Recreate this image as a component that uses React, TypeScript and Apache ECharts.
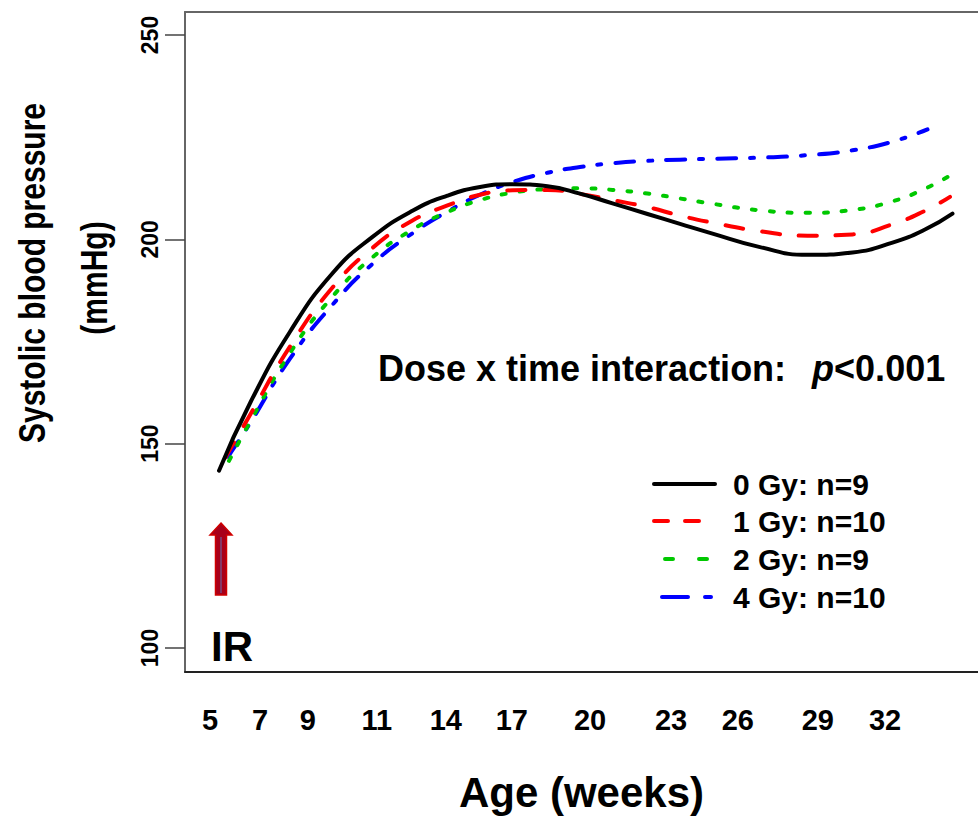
import React, { useEffect, useRef } from "react";
import * as echarts from "echarts";

// x axis: positions on a linear scale; labels are the ages in weeks shown at those positions
const xTickPos = [5.0, 7.0, 8.91, 11.67, 14.43, 17.07, 20.2, 23.44, 26.11, 29.31, 32.0];
const xTickLabels = ["5", "7", "9", "11", "14", "17", "20", "23", "26", "29", "32"];
const yTicks = [100, 150, 200, 250];

const seriesNames = ["0 Gy: n=9", "1 Gy: n=10", "2 Gy: n=9", "4 Gy: n=10"];

const x0Gy = [5.36, 6.6, 8.2, 9.9, 11.5, 13.1, 14.5, 15.8, 17.1, 18.5, 19.8, 21.1, 22.5, 23.8, 25.0, 27.0, 28.9, 30.7, 32.3, 33.6, 34.7];
const y0Gy = [143.4, 159.9, 177.4, 191.7, 200.6, 207.0, 210.7, 212.8, 213.5, 213.0, 211.2, 208.8, 206.2, 203.8, 201.6, 198.1, 196.2, 196.8, 199.2, 202.4, 206.3];

const x1Gy = [5.6, 6.6, 8.2, 9.9, 11.5, 13.1, 14.5, 15.8, 17.1, 18.5, 19.8, 21.1, 22.5, 23.8, 25.0, 27.0, 28.9, 30.7, 32.3, 33.6, 34.6];
const y1Gy = [146.5, 157.0, 173.8, 188.2, 197.9, 204.6, 208.3, 210.9, 212.0, 212.1, 211.1, 209.6, 207.9, 205.8, 204.2, 202.0, 200.9, 201.2, 203.7, 207.0, 210.4];

const x2Gy = [5.76, 6.6, 8.2, 9.9, 11.5, 13.1, 14.5, 15.8, 17.1, 18.5, 19.8, 21.1, 22.5, 23.8, 25.0, 27.0, 28.9, 30.7, 32.3, 33.6, 34.6];
const y2Gy = [145.8, 155.3, 172.2, 186.0, 195.6, 202.4, 206.7, 209.6, 211.4, 212.3, 212.5, 212.1, 211.2, 210.0, 208.8, 207.1, 206.5, 207.2, 209.3, 212.4, 215.6];

const x4Gy = [5.72, 6.6, 8.2, 9.9, 11.5, 13.1, 14.5, 15.8, 17.1, 18.5, 19.8, 21.1, 22.5, 23.8, 25.0, 27.0, 28.9, 30.7, 32.3, 33.7];
const y4Gy = [146.8, 155.0, 170.8, 184.0, 194.0, 201.5, 206.8, 210.9, 214.0, 216.3, 217.7, 218.6, 219.2, 219.5, 219.7, 220.0, 220.6, 221.8, 223.9, 226.9];

const xs = [x0Gy, x1Gy, x2Gy, x4Gy];
const ys = [y0Gy, y1Gy, y2Gy, y4Gy];

const colors = ["#000000", "#ff0000", "#00c800", "#0000ff"];
const dashes: any[] = ["solid", [18, 19], [4, 14], [19, 14, 4, 14]];
const legendDashes: any[] = [null, [14, 17], [8, 26], [26, 17, 6, 20]];
const legendLineStart = [654, 654, 665, 662];

const FONT = "'Liberation Sans', Arial, Helvetica, sans-serif";
const X_MIN = 4.0;
const X_MAX = 35.72;

export default function App() {
  const ref = useRef<HTMLDivElement>(null);

  useEffect(() => {
    if (!ref.current) return;
    const chart = echarts.init(ref.current, null, { renderer: "svg" });

    const series = seriesNames.map((name, i) => ({
      name,
      type: "line",
      data: xs[i].map((x, j) => [x, ys[i][j]]),
      smooth: true,
      showSymbol: false,
      symbol: "none",
      lineStyle: {
        color: colors[i],
        width: 4,
        type: dashes[i],
        cap: "round",
        join: "round",
      },
      z: 10 - i,
    }));

    const legendRowsY = [484, 521, 559, 597];
    const legendGraphics: any[] = [];
    seriesNames.forEach((name, i) => {
      legendGraphics.push({
        type: "line",
        shape: { x1: legendLineStart[i], y1: legendRowsY[i], x2: 715, y2: legendRowsY[i] },
        style: {
          stroke: colors[i],
          lineWidth: 4,
          lineDash: legendDashes[i] || undefined,
          lineCap: "round",
        },
      });
      legendGraphics.push({
        type: "text",
        x: 733,
        y: legendRowsY[i],
        style: {
          text: name,
          fill: "#000",
          font: `bold 30px ${FONT}`,
          verticalAlign: "middle",
          align: "left",
        },
      });
    });

    chart.setOption({
      animation: false,
      backgroundColor: "#ffffff",
      grid: {
        left: 185,
        top: 12,
        right: 0,
        bottom: 146,
        show: false,
      },
      xAxis: [
        {
          type: "value",
          min: X_MIN,
          max: X_MAX,
          axisLine: { show: true, lineStyle: { color: "#222222", width: 2 } },
          axisTick: { show: false },
          splitLine: { show: false },
          axisLabel: {
            customValues: xTickPos,
            formatter: (v: number) => {
              const i = xTickPos.findIndex((p) => Math.abs(p - v) < 1e-6);
              return i >= 0 ? xTickLabels[i] : "";
            },
            fontSize: 29,
            fontWeight: "bold",
            fontFamily: FONT,
            color: "#000",
            margin: 33,
          },
          name: "Age (weeks)",
          nameLocation: "middle",
          nameGap: 99,
          nameTextStyle: {
            fontSize: 42,
            fontWeight: "bold",
            fontFamily: FONT,
            color: "#000",
          },
        },
        {
          type: "value",
          position: "top",
          min: X_MIN,
          max: X_MAX,
          axisLine: { show: true, lineStyle: { color: "#666666", width: 2 } },
          axisTick: { show: false },
          axisLabel: { show: false },
          splitLine: { show: false },
        },
      ],
      yAxis: {
        type: "value",
        min: 94.13,
        max: 255.63,
        axisLine: { show: true, lineStyle: { color: "#666666", width: 2 } },
        axisTick: {
          show: true,
          customValues: yTicks,
          length: 20,
          lineStyle: { color: "#444444", width: 1.5 },
        },
        splitLine: { show: false },
        axisLabel: {
          customValues: yTicks,
          rotate: 90,
          fontSize: 23,
          fontWeight: "bold",
          fontFamily: FONT,
          color: "#000",
          margin: 24,
        },
      },
      series,
      graphic: [
        {
          type: "text",
          x: 32,
          y: 273,
          rotation: Math.PI / 2,
          scaleY: 1.22,
          style: {
            text: "Systolic blood pressure",
            fill: "#000",
            font: `bold 30px ${FONT}`,
            align: "center",
            verticalAlign: "middle",
          },
        },
        {
          type: "text",
          x: 94,
          y: 278,
          rotation: Math.PI / 2,
          scaleY: 1.22,
          style: {
            text: "(mmHg)",
            fill: "#000",
            font: `bold 30px ${FONT}`,
            align: "center",
            verticalAlign: "middle",
          },
        },
        {
          type: "text",
          x: 378,
          y: 368,
          style: {
            text: "{b|Dose x time interaction:}{i|p}{b|<0.001}",
            verticalAlign: "middle",
            align: "left",
            rich: {
              b: { fontFamily: FONT, fontWeight: "bold", fontSize: 36, fill: "#000" },
              i: { fontFamily: FONT, fontWeight: "bold", fontStyle: "italic", fontSize: 36, fill: "#000", padding: [0, 0, 0, 26] },
            },
          },
        },
        {
          type: "polygon",
          shape: {
            points: [
              [221, 523],
              [232, 535],
              [226.5, 535],
              [226.5, 595],
              [215.5, 595],
              [215.5, 535],
              [210, 535],
            ],
          },
          style: { fill: "#a8001a", stroke: "#d00000", lineWidth: 1.5 },
        },
        {
          type: "line",
          shape: { x1: 221, y1: 537, x2: 221, y2: 593 },
          style: { stroke: "#7a4a80", lineWidth: 1.5 },
        },
        {
          type: "text",
          x: 232,
          y: 646,
          style: {
            text: "IR",
            fill: "#000",
            font: `bold 42px ${FONT}`,
            align: "center",
            verticalAlign: "middle",
          },
        },
        ...legendGraphics,
      ],
    });

    return () => {
      chart.dispose();
    };
  }, []);

  return (
    <div
      ref={ref}
      style={{ position: "absolute", left: 0, top: 0, width: 978, height: 818, background: "#fff" }}
    />
  );
}
